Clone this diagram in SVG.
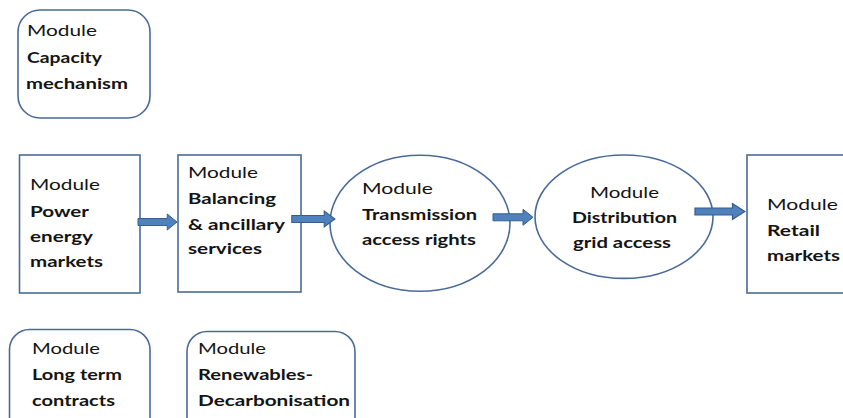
<svg xmlns="http://www.w3.org/2000/svg" width="843" height="418" viewBox="0 0 843 418">
  <style>
    .box { fill: #ffffff; stroke: #4a6b98; stroke-width: 1.6; }
    .t { font-family: "Lato", "Open Sans", "Liberation Sans", sans-serif; font-size: 16px; fill: #141414; }
    .b { font-weight: 700; }
    .arrow { fill: #4f81bd; stroke: #385d8a; stroke-width: 1; }
  </style>
  <defs>
    <!-- block arrow pointing right, tip at origin: shaft then head -->
    <path id="blockArrow" d="M -40 -3.5 L -10 -3.5 L -10 -8 L 0 0 L -10 8 L -10 3.5 L -40 3.5 Z"/>
  </defs>
  <rect width="843" height="418" fill="#ffffff"/>

  <g id="capacity">
    <rect class="box" x="18" y="10" width="132" height="108" rx="22"/>
    <text class="t" x="27" y="36" textLength="70" lengthAdjust="spacingAndGlyphs">Module</text>
    <text class="t b" x="27" y="63" textLength="75" lengthAdjust="spacingAndGlyphs">Capacity</text>
    <text class="t b" x="26" y="89" textLength="102" lengthAdjust="spacingAndGlyphs">mechanism</text>
  </g>

  <g id="power">
    <rect class="box" x="19.5" y="155" width="120.5" height="138"/>
    <text class="t" x="30" y="190" textLength="70" lengthAdjust="spacingAndGlyphs">Module</text>
    <text class="t b" x="30" y="216.5" textLength="59" lengthAdjust="spacingAndGlyphs">Power</text>
    <text class="t b" x="30" y="242" textLength="63" lengthAdjust="spacingAndGlyphs">energy</text>
    <text class="t b" x="30" y="267" textLength="73" lengthAdjust="spacingAndGlyphs">markets</text>
  </g>

  <g id="balancing">
    <rect class="box" x="178" y="155" width="123" height="137"/>
    <text class="t" x="188" y="177.5" textLength="70" lengthAdjust="spacingAndGlyphs">Module</text>
    <text class="t b" x="188" y="204" textLength="88" lengthAdjust="spacingAndGlyphs">Balancing</text>
    <text class="t b" x="188" y="230" textLength="97" lengthAdjust="spacingAndGlyphs">&amp; ancillary</text>
    <text class="t b" x="188" y="254" textLength="74" lengthAdjust="spacingAndGlyphs">services</text>
  </g>

  <g id="transmission">
    <ellipse class="box" cx="420" cy="223.3" rx="90" ry="68"/>
    <text class="t" x="362" y="194" textLength="71" lengthAdjust="spacingAndGlyphs">Module</text>
    <text class="t b" x="362" y="220" textLength="115" lengthAdjust="spacingAndGlyphs">Transmission</text>
    <text class="t b" x="362" y="245" textLength="114" lengthAdjust="spacingAndGlyphs">access rights</text>
  </g>

  <g id="distribution">
    <ellipse class="box" cx="624" cy="216.7" rx="89" ry="61.7"/>
    <text class="t" x="590" y="198.3" textLength="69" lengthAdjust="spacingAndGlyphs">Module</text>
    <text class="t b" x="572" y="223.3" textLength="105" lengthAdjust="spacingAndGlyphs">Distribution</text>
    <text class="t b" x="573" y="248.3" textLength="98" lengthAdjust="spacingAndGlyphs">grid access</text>
  </g>

  <g id="retail">
    <rect class="box" x="747" y="155" width="110" height="138"/>
    <text class="t" x="767" y="210" textLength="71" lengthAdjust="spacingAndGlyphs">Module</text>
    <text class="t b" x="767" y="235.7" textLength="53" lengthAdjust="spacingAndGlyphs">Retail</text>
    <text class="t b" x="767" y="260.7" textLength="73" lengthAdjust="spacingAndGlyphs">markets</text>
  </g>

  <g id="longterm">
    <rect class="box" x="9.5" y="329.5" width="140.5" height="110" rx="20"/>
    <text class="t" x="32" y="354.3" textLength="68" lengthAdjust="spacingAndGlyphs">Module</text>
    <text class="t b" x="32" y="380" textLength="90" lengthAdjust="spacingAndGlyphs">Long term</text>
    <text class="t b" x="32" y="406" textLength="83" lengthAdjust="spacingAndGlyphs">contracts</text>
  </g>

  <g id="renewables">
    <rect class="box" x="187" y="331.5" width="168" height="110" rx="20"/>
    <text class="t" x="198" y="354.3" textLength="68" lengthAdjust="spacingAndGlyphs">Module</text>
    <text class="t b" x="198" y="380" textLength="115" lengthAdjust="spacingAndGlyphs">Renewables-</text>
    <text class="t b" x="198" y="406" textLength="152" lengthAdjust="spacingAndGlyphs">Decarbonisation</text>
  </g>

  <g id="connectors">
    <use href="#blockArrow" class="arrow" transform="translate(177 222) scale(0.975 1)"/>
    <use href="#blockArrow" class="arrow" transform="translate(335 219) scale(1.08 1)"/>
    <use href="#blockArrow" class="arrow" transform="translate(533 217.3)"/>
    <use href="#blockArrow" class="arrow" transform="translate(745 211.5) scale(1.25 1)"/>
  </g>
</svg>
